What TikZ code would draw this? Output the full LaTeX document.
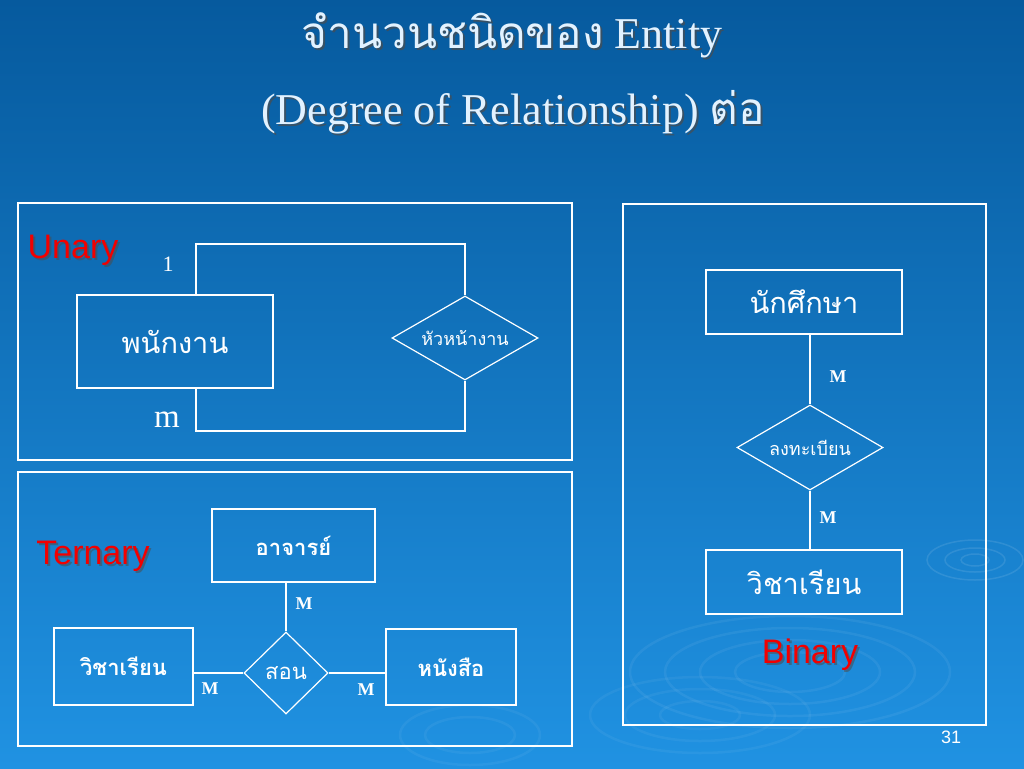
\documentclass[tikz,border=0pt]{standalone}
\usepackage{fontspec}
\setmainfont{Liberation Serif}
\newfontfamily\thai[Script=Thai]{Loma}
\newfontfamily\arial{Liberation Sans}
\usepackage{tikz}
\usetikzlibrary{shapes.geometric}
\usetikzlibrary{positioning}
\usetikzlibrary{calc}

\definecolor{bgtop}{RGB}{6,90,158}
\definecolor{bgmid}{RGB}{12,110,184}
\definecolor{bgbot}{RGB}{32,146,226}
\definecolor{ttl}{RGB}{226,242,255}
\definecolor{kindred}{RGB}{242,0,0}

\begin{document}
\begin{tikzpicture}[x=1pt, y=-1pt,
    frame/.style={draw=white,line width=1.2pt},
    entity/.style={rectangle,draw=white,line width=1.2pt,text=white,inner sep=0pt},
    rel/.style={diamond,draw=white,line width=1.2pt,text=white,inner sep=0pt},
    link/.style={white,line width=1.2pt},
    card/.style={text=white,font=\fontsize{18}{20}\selectfont\bfseries},
    kind/.style={text=kindred,font=\arial\fontsize{34}{38}\selectfont},
    kindsh/.style={text=black!70,opacity=0.55,font=\arial\fontsize{34}{38}\selectfont},
    ttlfont/.style={font=\fontsize{44}{50}\selectfont}]

\def\THBIG{\thai\fontsize{29}{34}\selectfont}
\def\THSMALL{\thai\fontsize{18}{22}\selectfont}
\def\THMID{\thai\fontsize{22}{26}\selectfont\bfseries}

% background
\shade[top color=bgtop, middle color=bgmid, bottom color=bgbot]
    (0,0) rectangle (1024,768);
\path[use as bounding box] (0,0) rectangle (1024,768);

% ripples
\foreach \rx/\ry in {160/56,125/44,90/32,55/20} {
    \draw[white,opacity=0.06,line width=2.5pt] (790,672) ellipse ({\rx} and {\ry});
}
\foreach \rx/\ry in {110/38,75/26,40/14} {
    \draw[white,opacity=0.05,line width=2.5pt] (700,715) ellipse ({\rx} and {\ry});
}
\foreach \rx/\ry in {48/20,30/12,14/6} {
    \draw[white,opacity=0.10,line width=1.5pt] (975,560) ellipse ({\rx} and {\ry});
}
\foreach \rx/\ry in {70/30,45/18} {
    \draw[white,opacity=0.05,line width=2.5pt] (470,735) ellipse ({\rx} and {\ry});
}

% title
\node[ttlfont,text=black!70,opacity=0.7] at (514,37) {{\thai จำนวนชนิดของ} Entity};
\node[ttlfont,text=ttl] (ttl1) at (512,35) {{\thai จำนวนชนิดของ} Entity};
\node[ttlfont,text=black!70,opacity=0.7] at (515,114) {(Degree of Relationship) {\thai ต่อ}};
\node[ttlfont,text=ttl] (ttl2) at (513,112) {(Degree of Relationship) {\thai ต่อ}};

% panels
\draw[frame] (18,203) rectangle (572,460);
\draw[frame] (18,472) rectangle (572,746);
\draw[frame] (623,204) rectangle (986,725);

% unary
\node[kindsh] at (75,252) {Unary};
\node[kind] (unary) at (73,250) {Unary};
\node[entity,minimum width=196pt,minimum height=93pt,font=\THBIG]
    (emp) at (175,341.5) {พนักงาน};
\node[rel,aspect=1.74,minimum width=146pt,minimum height=84pt,font=\THSMALL]
    (boss) at (465,338) {หัวหน้างาน};
\coordinate (uptop) at (196,244);
\coordinate (upbot) at (196,431);
\draw[link] (emp.north -| uptop) -- (uptop) -| (boss.north);
\draw[link] (emp.south -| upbot) -- (upbot) -| (boss.south);
\node[text=white,font=\fontsize{22}{24}\selectfont] (one) at (168,264) {1};
\node[text=white,font=\fontsize{33}{36}\selectfont] (many) at (167,420) {m};

% ternary
\node[kindsh] at (95,558) {Ternary};
\node[kind] (ternary) at (93,556) {Ternary};
\node[entity,minimum width=163pt,minimum height=73pt,font=\THMID]
    (teacher) at (293.5,545.5) {อาจารย์};
\node[rel,aspect=1,minimum width=84pt,minimum height=82pt,font=\thai\fontsize{22}{26}\selectfont]
    (teach) at (286,673) {สอน};
\node[entity,minimum width=139pt,minimum height=77pt,font=\THMID]
    (subj) at (123.5,666.5) {วิชาเรียน};
\node[entity,minimum width=130pt,minimum height=76pt,font=\THMID]
    (book) at (451,667) {หนังสือ};
\draw[link] (teacher.south -| teach.north) -- (teach.north);
\draw[link] (teach.west -| subj.east) -- (teach.west);
\draw[link] (teach.east) -- (teach.east -| book.west);
\node[card] (mt) at (304,604) {M};
\node[card] (ms) at (210,689) {M};
\node[card] (mb) at (366,690) {M};

% binary
\node[entity,minimum width=196pt,minimum height=64pt,font=\THBIG]
    (stu) at (804,302) {นักศึกษา};
\node[rel,aspect=1.72,minimum width=146pt,minimum height=85pt,font=\THSMALL]
    (reg) at (810,447.5) {ลงทะเบียน};
\node[entity,minimum width=196pt,minimum height=64pt,font=\THBIG]
    (course) at (804,582) {วิชาเรียน};
\draw[link] (reg.north |- stu.south) -- (reg.north);
\draw[link] (reg.south) -- (reg.south |- course.north);
\node[card] (m1) at (838,377) {M};
\node[card] (m2) at (828,518) {M};
\node[kindsh] at (812,657) {Binary};
\node[kind] (binary) at (810,655) {Binary};

\node[text=white,font=\arial\fontsize{18}{20}\selectfont] (page) at (951,737) {31};

\end{tikzpicture}
\end{document}
